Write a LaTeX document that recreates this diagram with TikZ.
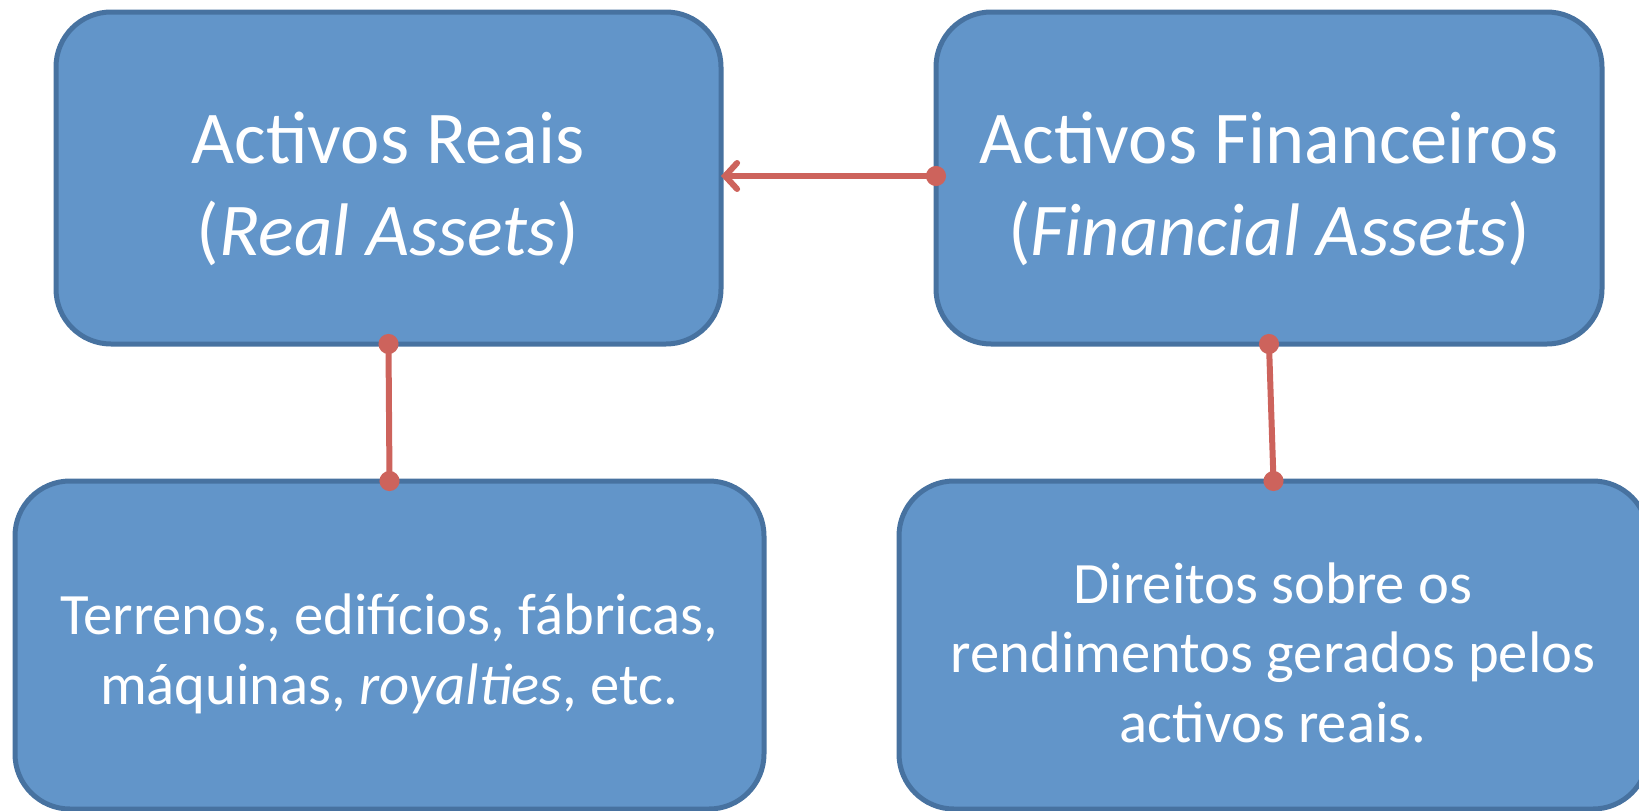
\documentclass[tikz,border=0pt]{standalone}
\usepackage{fontspec}
\setmainfont{Carlito}
\usetikzlibrary{arrows.meta}
\definecolor{boxfill}{RGB}{98,149,201}
\definecolor{boxline}{RGB}{71,114,160}
\definecolor{connred}{RGB}{205,99,92}
\begin{document}
\begin{tikzpicture}[x=1pt,y=-1pt,
  assetbox/.style={draw=boxline, fill=boxfill, line width=5pt, rounded corners=55pt,
    inner sep=0pt, outer sep=0pt, anchor=north west},
  toptext/.style={text=white, align=center, anchor=base, inner sep=0pt,
    font=\fontsize{74.5}{92}\selectfont},
  bottext/.style={text=white, align=center, anchor=base, inner sep=0pt,
    font=\fontsize{58.6}{69.5}\selectfont},
  conn/.style={draw=connred, line width=6pt},
]
\useasboundingbox (0,0) rectangle (1639,811);
% boxes
\node[assetbox, minimum width=665pt, minimum height=332pt] (ra) at (56,12) {};
\node[assetbox, minimum width=666pt, minimum height=332pt] (fa) at (936,12) {};
\node[assetbox, minimum width=749pt, minimum height=328pt] (ta) at (15,481) {};
\node[assetbox, minimum width=749pt, minimum height=328pt] (fd) at (899,481) {};
% texts (anchor base = baseline of last line)
\node[toptext] (ratext) at (388,255) {Activos Reais\\(\textit{Real Assets})};
\node[toptext] (fatext) at (1269,255) {Activos Financeiros\\(\textit{Financial Assets})};
\node[bottext] (tatext) at (389,704) {Terrenos, edifícios, fábricas,\\máquinas, \textit{royalties}, etc.};
\node[bottext] (fdtext) at (1273,742) {Direitos sobre os\\rendimentos gerados pelos\\activos reais.};
% connectors
\draw[conn, {Circle[length=20pt]}-{Straight Barb[length=12pt,width=26pt,line cap=round]}, shorten <=-10pt]
  ([yshift=2pt]fa.west) -- ([yshift=2pt]ra.east);
\draw[conn, {Circle[length=20pt]}-{Circle[length=20pt]}, shorten <=-10pt, shorten >=-10pt]
  (ra.south) -- (ta.north);
\draw[conn, {Circle[length=20pt]}-{Circle[length=20pt]}, shorten <=-10pt, shorten >=-10pt]
  (fa.south) -- (fd.north);
\end{tikzpicture}
\end{document}
